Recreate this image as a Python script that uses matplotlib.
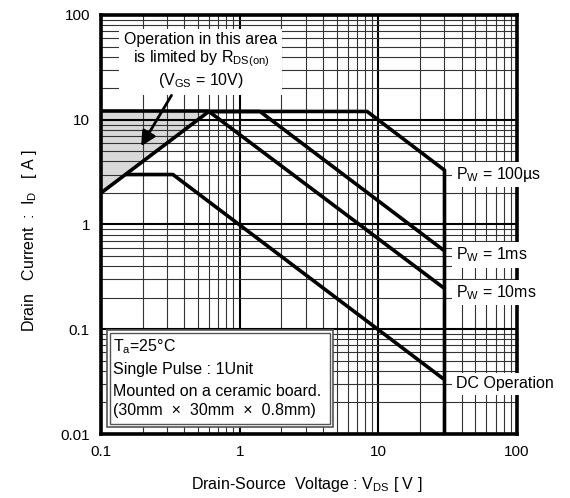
import matplotlib
matplotlib.use('Agg')
import matplotlib.pyplot as plt
from matplotlib.ticker import FixedLocator, FixedFormatter, NullFormatter, LogLocator
from matplotlib.patches import Rectangle

plt.rcParams['font.family'] = ['Liberation Sans', 'DejaVu Sans']
plt.rcParams['mathtext.fontset'] = 'custom'
plt.rcParams['mathtext.rm'] = 'Liberation Sans'
plt.rcParams['mathtext.it'] = 'Liberation Sans:italic'

# data
x_ticks = [0.1, 1, 10, 100]
x_ticklabels = ['0.1', '1', '10', '100']
y_ticks = [0.01, 0.1, 1, 10, 100]
y_ticklabels = ['0.01', '0.1', '1', '10', '100']

rds_v = [0.1, 0.6]
rds_i = [2, 12]

limit_v = [0.1, 0.6]
limit_i = [12, 12]

pw100us_v = [0.6, 8.3, 30, 30]
pw100us_i = [12, 12, 3.3, 0.01]

pw1ms_v = [0.6, 1.4, 30]
pw1ms_i = [12, 12, 0.56]

pw10ms_v = [0.6, 30]
pw10ms_i = [12, 0.245]

dc_v = [0.15, 0.33, 30]
dc_i = [3, 3, 0.033]

labels = ['$\\mathregular{P_W}$ = 100µs', '$\\mathregular{P_W}$ = 1ms',
          '$\\mathregular{P_W}$ = 10ms', 'DC Operation']
label_i = [3.3, 0.56, 0.245, 0.033]

fig = plt.figure(figsize=(5.7, 4.98), dpi=100)
ax = fig.add_axes([101/570, 1-434/498, 416/570, 419/498])
ax.set_xscale('log')
ax.set_yscale('log')
ax.set_xlim(0.1, 100)
ax.set_ylim(0.01, 100)

ax.xaxis.set_major_locator(FixedLocator(x_ticks))
ax.xaxis.set_major_formatter(FixedFormatter(x_ticklabels))
ax.yaxis.set_major_locator(FixedLocator(y_ticks))
ax.yaxis.set_major_formatter(FixedFormatter(y_ticklabels))
ax.xaxis.set_minor_locator(LogLocator(base=10, subs=range(2, 10)))
ax.yaxis.set_minor_locator(LogLocator(base=10, subs=range(2, 10)))
ax.xaxis.set_minor_formatter(NullFormatter())
ax.yaxis.set_minor_formatter(NullFormatter())

ax.set_axisbelow(True)
ax.grid(which='major', color='black', lw=1.5)
ax.grid(which='minor', color='#333333', lw=0.8)
ax.tick_params(which='both', length=0, labelsize=11)
ax.tick_params(axis='x', pad=8)
ax.tick_params(axis='y', pad=8)
for s in ax.spines.values():
    s.set_linewidth(2.6)
    s.set_zorder(5)

# shaded RDS(on) limited area
ax.fill_between(rds_v, rds_i, limit_i, color='#d9d9d9', zorder=0.2)

lw = 2.6
for v, i in [(rds_v, rds_i), (limit_v, limit_i), (pw100us_v, pw100us_i),
             (pw1ms_v, pw1ms_i), (pw10ms_v, pw10ms_i), (dc_v, dc_i)]:
    ax.plot(v, i, color='black', lw=lw, zorder=3, solid_capstyle='butt')

for lab, yi in zip(labels, label_i):
    ax.annotate(lab, xy=(30, yi), xytext=(8, -3), textcoords='offset points',
                va='center', ha='left', fontsize=11.5, zorder=6, annotation_clip=False,
                bbox=dict(boxstyle='square,pad=0.2', fc='white', ec='none'))

ax.text(0.24, 0.89, 'Operation in this area\nis limited by R$\\mathregular{_{DS(on)}}$\n(V$\\mathregular{_{GS}}$ = 10V)',
        transform=ax.transAxes, ha='center', va='center', fontsize=11.5, zorder=6,
        linespacing=1.15, bbox=dict(boxstyle='square,pad=0.3', fc='white', ec='none'))
ax.annotate('', xy=(0.19, 5.3), xytext=(0.33, 18),
            arrowprops=dict(arrowstyle='-|>', color='black', lw=2, mutation_scale=22),
            zorder=6)

# condition box with double border
ax.add_patch(Rectangle((0.0144, 0.0167), 0.544, 0.231, transform=ax.transAxes,
                       fc='white', ec='#555555', lw=1.2, zorder=6))
ax.add_patch(Rectangle((0.0214, 0.0237), 0.530, 0.217, transform=ax.transAxes,
                       fc='white', ec='#555555', lw=1.0, zorder=6))
cond_lines = ['T$\\mathregular{_a}$=25°C', 'Single Pulse : 1Unit',
              'Mounted on a ceramic board.', '(30mm  ×  30mm  ×  0.8mm)']
cond_y = [0.2076, 0.155, 0.1026, 0.055]
for t, yy in zip(cond_lines, cond_y):
    ax.text(0.029, yy, t, transform=ax.transAxes, ha='left', va='center',
            fontsize=11.5, zorder=7)

ax.set_xlabel('Drain-Source  Voltage : V$\\mathregular{_{DS}}$ [ V ]', fontsize=11.5)
ax.set_ylabel('Drain   Current  :  I$\\mathregular{_D}$   [ A ]', fontsize=11.5)
ax.xaxis.set_label_coords(0.495, -0.097)
ax.yaxis.set_label_coords(-0.15, 0.463)

fig.savefig('out.png', dpi=100)
